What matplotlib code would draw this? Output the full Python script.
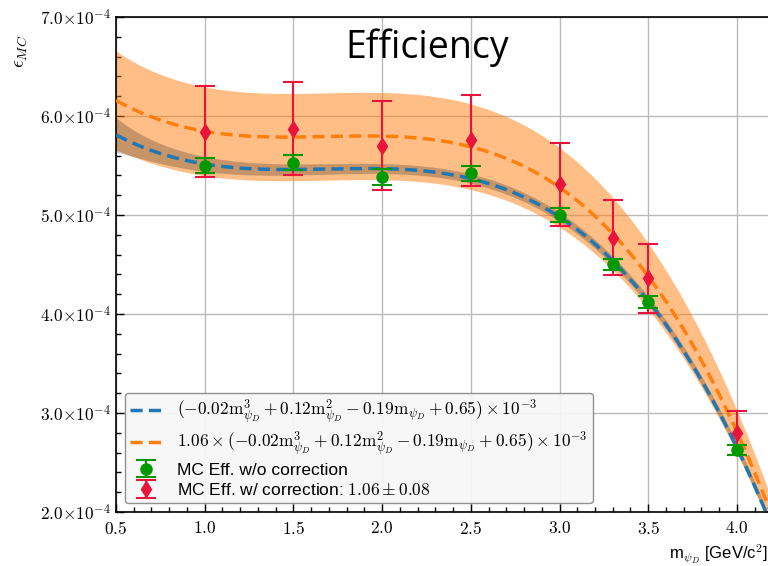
import numpy as np
import matplotlib
matplotlib.use('Agg')
import matplotlib.pyplot as plt
from matplotlib.ticker import MultipleLocator, FuncFormatter

plt.rcParams['mathtext.fontset'] = 'cm'
plt.rcParams['font.family'] = ['Liberation Sans', 'DejaVu Sans']

SCALE = 1e-4

# MC points (units of 1e-4)
mass = [1.0, 1.5, 2.0, 2.5, 3.0, 3.3, 3.5, 4.0]
eff_nocorr = [5.50, 5.53, 5.38, 5.42, 5.00, 4.50, 4.12, 2.63]
err_nocorr = [0.078, 0.078, 0.08, 0.075, 0.073, 0.06, 0.06, 0.05]
eff_corr = [5.84, 5.87, 5.70, 5.755, 5.31, 4.77, 4.36, 2.80]
err_corr = [0.46, 0.47, 0.45, 0.46, 0.42, 0.38, 0.35, 0.22]

# cubic fit (units of 1e-4), highest power first
fit_coef = [-0.2331, 1.1776, -1.9475, 6.518]
fit_sigma = [0.0417, 0.0333]   # sigma = s0 + s1 / m^2
corr_factor = 1.06
corr_err = 0.08

m = np.linspace(0.5, 4.3, 400)
f = np.polyval(fit_coef, m)
sig = fit_sigma[0] + fit_sigma[1] / m**2
fc = corr_factor * f
rel = np.sqrt((corr_err / corr_factor)**2 + (sig / f)**2)

fig = plt.figure(figsize=(7.68, 5.66), dpi=100)
ax = fig.add_axes([116/768, 54/566, 660/768, 495/566])

ax.grid(True, color='#bbbbbb', lw=1.0, zorder=0)
ax.set_axisbelow(True)

ax.fill_between(m, (fc - fc*rel)*SCALE, (fc + fc*rel)*SCALE, color='#ff7f0e', alpha=0.5, lw=0, zorder=1)
ax.fill_between(m, (f - sig)*SCALE, (f + sig)*SCALE, color='k', alpha=0.22, lw=0, zorder=2)
ax.plot(m, f*SCALE, ls='--', color='#1f77b4', lw=2.5, dashes=(3.5, 1.8), zorder=3,
        label=r'$(-0.02\mathrm{m}_{\psi_D}^3+0.12\mathrm{m}_{\psi_D}^2-0.19\mathrm{m}_{\psi_D}+0.65)\times10^{-3}$')
ax.plot(m, fc*SCALE, ls='--', color='#ff7f0e', lw=2.5, dashes=(3.5, 1.8), zorder=3,
        label=r'$1.06\times(-0.02\mathrm{m}_{\psi_D}^3+0.12\mathrm{m}_{\psi_D}^2-0.19\mathrm{m}_{\psi_D}+0.65)\times10^{-3}$')

ax.errorbar(mass, np.array(eff_nocorr)*SCALE, yerr=np.array(err_nocorr)*SCALE, fmt='o',
            color='#009a00', ms=8, capsize=7, elinewidth=1.5, capthick=1.5, zorder=5,
            label='MC Eff. w/o correction')
ax.errorbar(mass, np.array(eff_corr)*SCALE, yerr=np.array(err_corr)*SCALE, fmt='d',
            color='#e8143c', ms=8, capsize=7, elinewidth=1.5, capthick=1.5, zorder=4,
            label=r'MC Eff. w/ correction: $1.06\pm0.08$')

ax.set_xlim(0.5, 0.5 + 660/177.4)
ax.set_ylim(2e-4, 7e-4)
ax.xaxis.set_major_locator(MultipleLocator(0.5))
ax.xaxis.set_minor_locator(MultipleLocator(0.1))
ax.yaxis.set_major_locator(MultipleLocator(1e-4))
ax.yaxis.set_minor_locator(MultipleLocator(0.2e-4))
ax.yaxis.set_major_formatter(FuncFormatter(lambda v, p: r'$%.1f{\times}10^{-4}$' % (v/SCALE)))
ax.xaxis.set_major_formatter(FuncFormatter(lambda v, p: r'$%.1f$' % v))
ax.tick_params(which='both', direction='in', labelsize=12.5)
ax.tick_params(axis='x', pad=6)
ax.tick_params(which='major', length=6, width=1)
ax.tick_params(which='minor', length=3.5, width=1)
for s in ax.spines.values():
    s.set_linewidth(1.2)

ax.set_ylabel(r'$\epsilon_{MC}$', fontsize=14)
ax.yaxis.set_label_coords(-0.13, 0.93)
ax.set_xlabel(r'm$_{\psi_D}$ [GeV/c$^2$]', fontsize=12)
ax.xaxis.set_label_coords(652/660, -0.062)
ax.xaxis.label.set_ha('right')

leg = ax.legend(loc='lower left', fontsize=12.5, bbox_to_anchor=(0.0, 0.0),
                frameon=True, fancybox=True, framealpha=0.92, edgecolor='#888888',
                facecolor='#f7f7f7', handlelength=1.8, borderpad=0.3, labelspacing=0.25,
                handletextpad=0.9)

fig.text(427/768, 1 - 48/566, 'Efficiency', fontsize=27, family='Open Sans', ha='center', va='center')

fig.savefig('out.png', dpi=100)
